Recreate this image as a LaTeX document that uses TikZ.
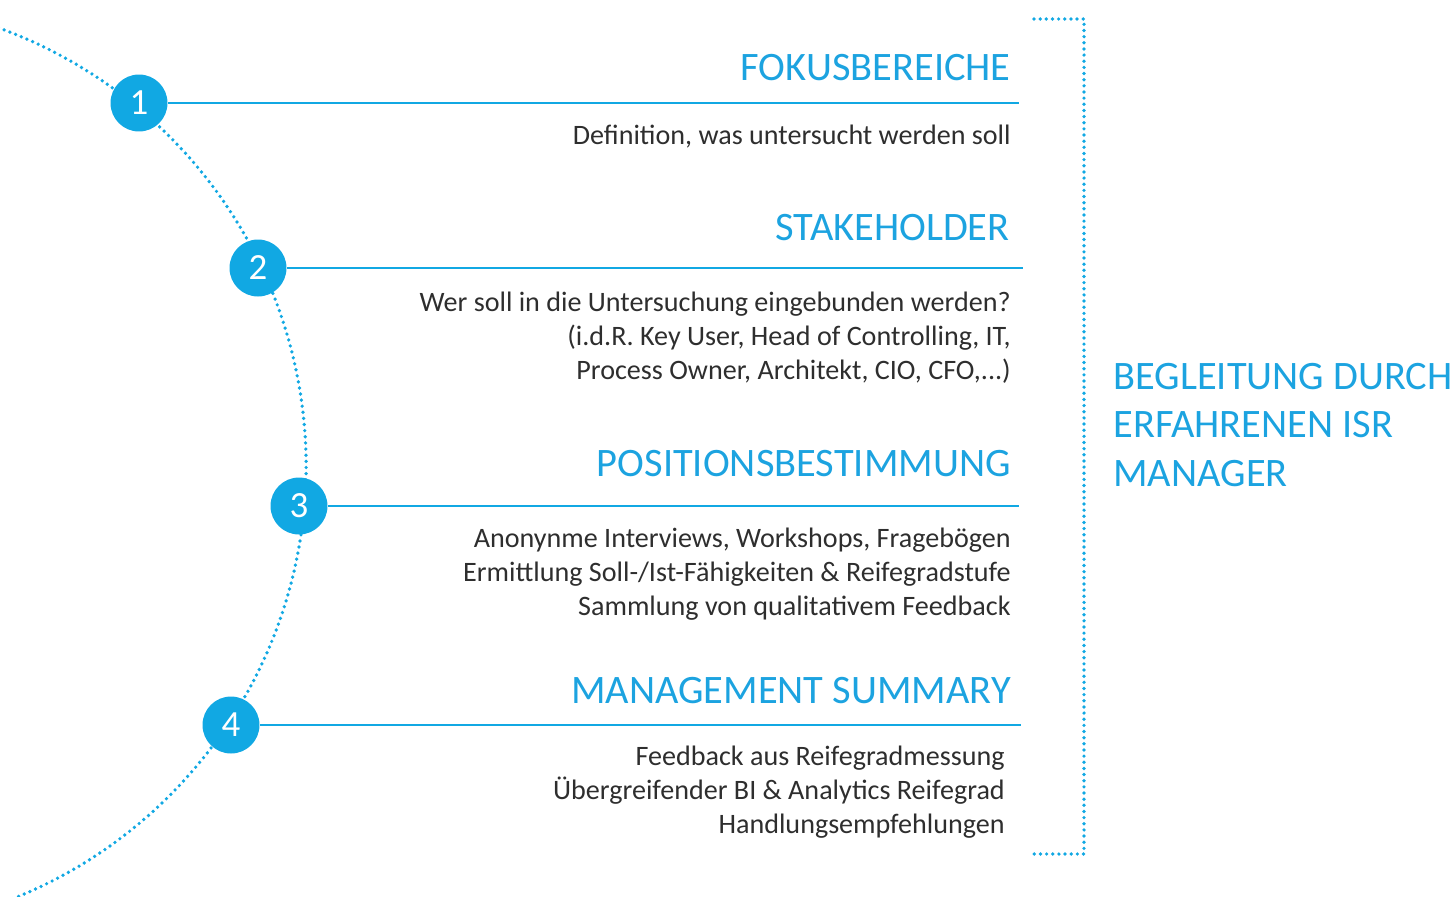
\documentclass[tikz,border=0pt]{standalone}
\usepackage{fontspec}
\setmainfont{Carlito}
\usetikzlibrary{positioning,calc}
\definecolor{isrblue}{HTML}{11A8E3}
\definecolor{isrtext}{HTML}{1CA3E0}
\definecolor{isrgray}{HTML}{2E2E2E}

\begin{document}
\begin{tikzpicture}[
    x=0.02cm,y=-0.02cm,
    numcircle/.style={circle,fill=isrblue,minimum size=1.14cm,inner sep=0pt,text=white,font=\fontsize{21}{21}\selectfont},
    headline/.style={anchor=base east,inner sep=0pt,text=isrtext,font=\fontsize{23}{23}\selectfont},
    detail/.style={anchor=north east,inner sep=0pt,align=right,text=isrgray,font=\fontsize{16}{19.3}\selectfont},
    stepline/.style={isrblue,line width=1.2pt},
    dotline/.style={isrblue,line width=2.1pt,line cap=round,dash pattern=on 0pt off 3.5pt}
  ]
    \useasboundingbox (0,0) rectangle (1453,896);

    % Big dotted arc on the left
    \draw[dotline] (-160,466) ++(72:466) arc[start angle=72,end angle=-72,radius=466];

    % Numbered circles on the arc
    \node[numcircle] (c1) at (139,103) {1};
    \node[numcircle] (c2) at (258,268) {2};
    \node[numcircle] (c3) at (299,506) {3};
    \node[numcircle] (c4) at (231,725) {4};

    % Line ends
    \coordinate (e1) at (1019,103);
    \coordinate (e2) at (1023,268);
    \coordinate (e3) at (1019,506);
    \coordinate (e4) at (1021,725);

    % Horizontal lines
    \draw[stepline] (c1) -- (e1);
    \draw[stepline] (c2) -- (e2);
    \draw[stepline] (c3) -- (e3);
    \draw[stepline] (c4) -- (e4);

    % Step 1
    \node[headline] (h1) at (1011,80) {FOKUSBEREICHE};
    \node[detail] (d1) at (1011,125) {Definition, was untersucht werden soll};

    % Step 2
    \node[headline] (h2) at (1010,240) {STAKEHOLDER};
    \node[detail] (d2) at (1011,292) {Wer soll in die Untersuchung eingebunden werden?\\(i.d.R. Key User, Head of Controlling, IT,\\Process Owner, Architekt, CIO, CFO,...)};

    % Step 3
    \node[headline] (h3) at (1011,476) {POSITIONSBESTIMMUNG};
    \node[detail] (d3) at (1011,528) {Anonynme Interviews, Workshops, Fragebögen\\Ermittlung Soll-/Ist-Fähigkeiten \& Reifegradstufe\\Sammlung von qualitativem Feedback};

    % Step 4
    \node[headline] (h4) at (1011,703) {MANAGEMENT SUMMARY};
    \node[detail] (d4) at (1005,746) {Feedback aus Reifegradmessung\\Übergreifender BI \& Analytics Reifegrad\\Handlungsempfehlungen};

    % Bracket on the right
    \coordinate (bt) at (1034,19);
    \coordinate (bb) at (1034,854);
    \draw[dotline] (bt) -- (1084,19) -- (1084,854) -- (bb);

    % Side label
    \node[anchor=north west,inner sep=0pt,align=left,text=isrtext,font=\fontsize{23}{27.5}\selectfont] (side) at (1113,363) {BEGLEITUNG DURCH\\ERFAHRENEN ISR\\MANAGER};
  \end{tikzpicture}
\end{document}
